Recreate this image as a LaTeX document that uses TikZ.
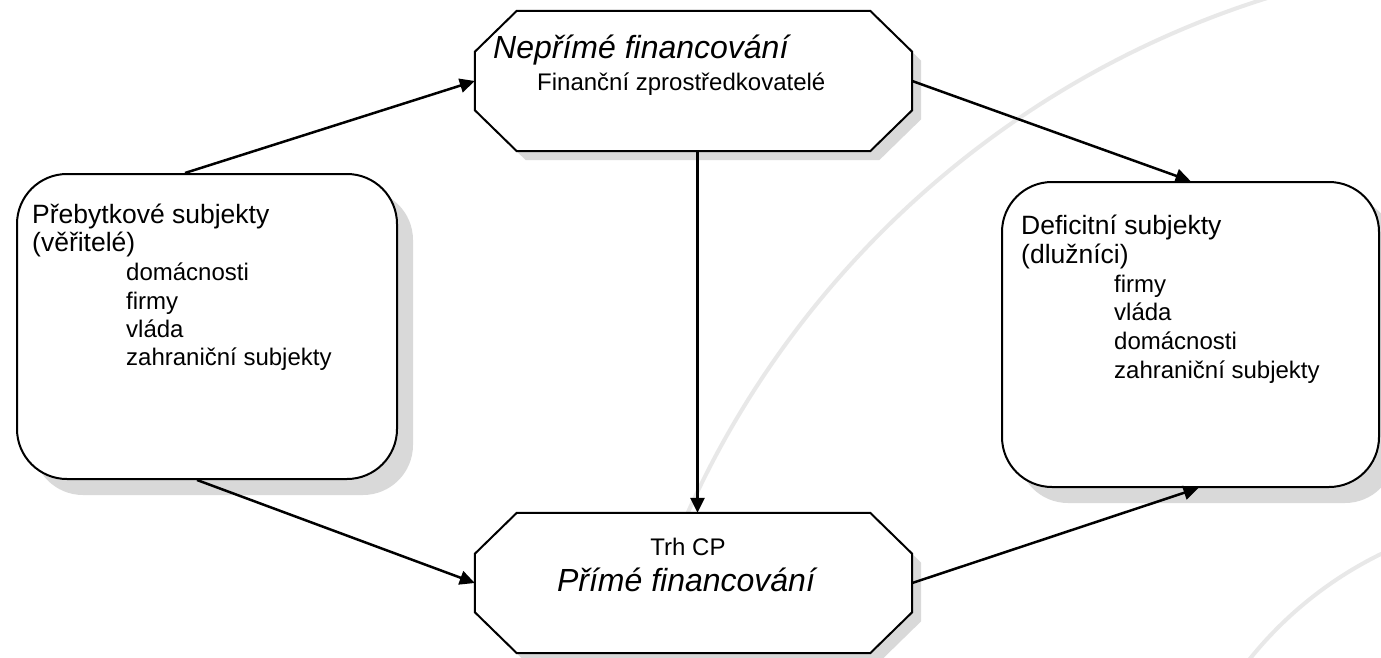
\documentclass[tikz,border=0pt]{standalone}
\usepackage{fontspec}
\setmainfont{Liberation Sans}
\usetikzlibrary{arrows.meta,calc,shadows}
\definecolor{fpshade}{RGB}{217,217,217}
\definecolor{fparc}{RGB}{232,232,232}
\definecolor{fpline}{RGB}{0,0,0}
\tikzset{
  fpBox/.style={draw=fpline, line width=2pt, fill=white, rounded corners=50pt,
                minimum width=380pt, minimum height=305pt, inner sep=0pt,
                general shadow={fill=fpshade, shadow xshift=16pt, shadow yshift=-16pt}},
  fpOct/.style={inner sep=0pt, minimum width=437pt, minimum height=140pt},
  fpOctPath/.style 2 args={insert path={
      ($(#1.north west)+(42+#2,#2)$) -- ($(#1.north east)+(-42+#2,#2)$)
      -- ($(#1.north east)+(#2,41+#2)$) -- ($(#1.south east)+(#2,-41+#2)$)
      -- ($(#1.south east)+(-42+#2,#2)$) -- ($(#1.south west)+(42+#2,#2)$)
      -- ($(#1.south west)+(#2,-41+#2)$) -- ($(#1.north west)+(#2,41+#2)$) -- cycle}},
  fpOctLine/.style={draw=fpline, line width=2pt, fill=white, line join=miter},
  fpHead/.style={anchor=base west, inner sep=0pt, font=\fontsize{26.5}{28}\selectfont},
  fpItem/.style={anchor=base west, inner sep=0pt, font=\fontsize{24}{26}\selectfont},
  fpTitle/.style={inner sep=0pt, font=\fontsize{32}{34}\selectfont\itshape},
  fpSub/.style={inner sep=0pt, font=\fontsize{24}{26}\selectfont},
  fpArrow/.style={-{Triangle[length=15pt, width=14pt]}, line width=2.5pt, draw=fpline},
  fpArc/.style={draw=fparc, line width=4pt}
}

\begin{document}
\begin{tikzpicture}[x=1pt,y=-1pt]
  \useasboundingbox (0,0) rectangle (1381,658);
  \fill[white] (0,0) rectangle (1381,658);
  % faint background arcs
  \draw[fpArc] (1550,900) circle[radius=945pt];
  \draw[fpArc] (1550,900) circle[radius=385pt];

  \node[fpBox] (prebytek) at (207,326.5) {};
  \node[fpBox, minimum width=377pt] (deficit) at (1190.5,334.5) {};
  \node[fpOct] (neprime) at (693.5,81) {};
  \node[fpOct] (prime) at (693.5,583) {};
  % octagons with their shadows
  \fill[fpshade, fpOctPath={neprime}{9}];
  \path[fpOctLine, fpOctPath={neprime}{0}];
  \fill[fpshade, fpOctPath={prime}{9}];
  \path[fpOctLine, fpOctPath={prime}{0}];

  \node[fpHead] (prebytekHead) at (32,223) {Přebytkové subjekty};
  \node[fpHead] (prebytekSub) at (32,251) {(věřitelé)};
  \node[fpItem] (prebytekA) at (126,280) {domácnosti};
  \node[fpItem] (prebytekB) at (126,309) {firmy};
  \node[fpItem] (prebytekC) at (126,337) {vláda};
  \node[fpItem] (prebytekD) at (126,365) {zahraniční subjekty};

  \node[fpHead] (deficitHead) at (1021,234) {Deficitní subjekty};
  \node[fpHead] (deficitSub) at (1021,263) {(dlužníci)};
  \node[fpItem] (deficitA) at (1114,292) {firmy};
  \node[fpItem] (deficitB) at (1114,320) {vláda};
  \node[fpItem] (deficitC) at (1114,349) {domácnosti};
  \node[fpItem] (deficitD) at (1114,378) {zahraniční subjekty};

  \node[fpTitle, anchor=base west] (neprimeTitle) at (493,59) {Nepřímé financování};
  \node[fpSub, anchor=base west] (neprimeSub) at (537,91) {Finanční zprostředkovatelé};
  \node[fpSub, anchor=base] (primeSub) at (688,555) {Trh CP};
  \node[fpTitle, anchor=base] (primeTitle) at (686,591) {Přímé financování};

  \draw[fpArrow] ([xshift=-22pt]prebytek.north) -- (neprime.west);
  \draw[fpArrow] (neprime.east) -- (deficit.north);
  \draw[fpArrow] ([xshift=4pt]neprime.south) -- ([xshift=4pt]prime.north);
  \draw[fpArrow] ([xshift=-10pt]prebytek.south) -- (prime.west);
  \draw[fpArrow] (prime.east) -- ([xshift=8pt]deficit.south);
\end{tikzpicture}
\end{document}
